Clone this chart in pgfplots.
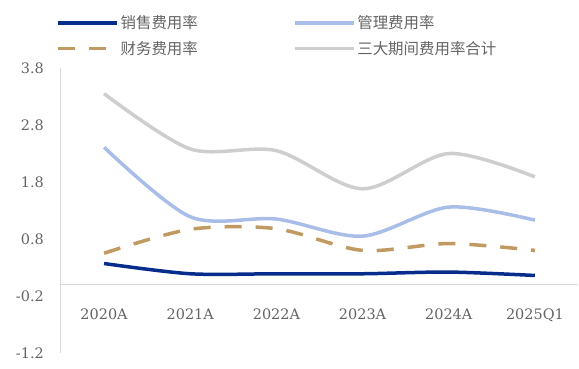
\documentclass[border=0pt]{standalone}
\usepackage{fontspec}
\setmainfont{DejaVu Serif}
\newfontfamily\cjk{Noto Sans CJK SC}
\usepackage{pgfplots}
\pgfplotsset{compat=1.18}
\definecolor{cNavy}{RGB}{8,44,140}
\definecolor{cLight}{RGB}{168,190,232}
\definecolor{cTan}{RGB}{192,154,96}
\definecolor{cGray}{RGB}{206,206,206}
\definecolor{cText}{RGB}{100,100,100}
\begin{document}
\begin{tikzpicture}
\useasboundingbox (-61bp,-16bp) rectangle (518bp,353bp);
\begin{axis}[
  scale only axis, width=517bp, height=285bp,
  xmin=-0.5, xmax=5.5, ymin=-1.2, ymax=3.8,
  axis x line*=middle, axis y line*=left,
  hide obscured x ticks=false, hide obscured y ticks=false,
  axis line style={draw=black!15, line width=1bp},
  xtick={0,1,2,3,4,5},
  xticklabels={2020A,2021A,2022A,2023A,2024A,2025Q1},
  ytick={-1.2,-0.2,0.8,1.8,2.8,3.8},
  yticklabel={\pgfmathprintnumber[fixed,fixed zerofill,precision=1]{\tick}},
  major tick length=0pt,
  /pgf/number format/assume math mode=true,
  tick label style={font=\fontsize{14.5}{16}\selectfont, text=cText, inner sep=0pt},
  xticklabel style={anchor=north, yshift=-24bp},
  yticklabel style={anchor=east, xshift=-17bp},
  legend columns=2,
  legend cell align=left,
  legend style={draw=none, fill=none, at={(axis description cs:-0.0155,1.198)}, anchor=north west,
    font=\cjk\fontsize{15.5}{18}\selectfont, text=cText,
    row sep=7bp,
    /tikz/every even column/.append style={column sep=93bp}},
  legend image code/.code={\draw[#1] (0bp,0bp) -- (59bp,0bp);},
]
\addplot[cNavy, line width=3.5bp, smooth] coordinates {(0,0.37) (1,0.19) (2,0.19) (3,0.19) (4,0.22) (5,0.16)};
\addlegendentry{销售费用率}
\addplot[cLight, line width=3.5bp, smooth] coordinates {(0,2.41) (1,1.19) (2,1.15) (3,0.85) (4,1.36) (5,1.13)};
\addlegendentry{管理费用率}
\addplot[cTan, line width=3.5bp, smooth, dash pattern=on 17bp off 14bp] coordinates {(0,0.55) (1,0.97) (2,0.98) (3,0.60) (4,0.72) (5,0.60)};
\addlegendentry{财务费用率}
\addplot[cGray, line width=3.5bp, smooth] coordinates {(0,3.35) (1,2.38) (2,2.35) (3,1.68) (4,2.30) (5,1.89)};
\addlegendentry{三大期间费用率合计}
\end{axis}
\end{tikzpicture}
\end{document}
